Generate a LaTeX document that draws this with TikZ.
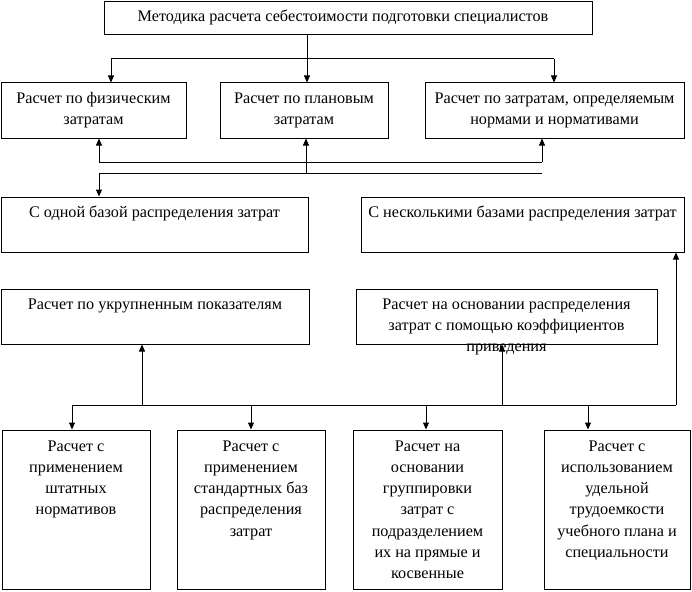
\documentclass[tikz,border=0pt]{standalone}
\usepackage{fontspec}
\setmainfont{Liberation Serif}
\usetikzlibrary{arrows.meta,fit}
\begin{document}
\begin{tikzpicture}[x=1pt,y=-1pt,
  box/.style={draw, line width=1pt, inner sep=0pt},
  txt/.style={align=center, inner sep=0pt, anchor=base, font=\fontsize{16.2}{21.3}\selectfont},
  arr/.style={line width=1pt, -{Triangle[length=7pt,width=6pt]}},
  ln/.style={line width=1pt}]
\useasboundingbox (0,0) rectangle (692,591);
% boxes
\node[box, fit={(104,2) (592,35)}] (top) {};
\node[box, fit={(1,83) (186,138)}] (b1) {};
\node[box, fit={(220,83) (388,138)}] (b2) {};
\node[box, fit={(425,83) (684,138)}] (b3) {};
\node[box, fit={(1,197) (308,252)}] (c1) {};
\node[box, fit={(361,197) (684,252)}] (c2) {};
\node[box, fit={(1,289) (309,344)}] (d1) {};
\node[box, fit={(356,289) (657,344)}] (d2) {};
\node[box, fit={(2,430) (150,589)}] (e1) {};
\node[box, fit={(177,430) (325,589)}] (e2) {};
\node[box, fit={(353,430) (502,589)}] (e3) {};
\node[box, fit={(544,430) (690,589)}] (e4) {};
% texts (anchor base = baseline of last line)
\node[txt] (ttop) at (343,22) {Методика расчета себестоимости подготовки специалистов};
\node[txt] (tb1) at (93.5,124.3) {Расчет по физическим\\затратам};
\node[txt] (tb2) at (304,124.3) {Расчет по плановым\\затратам};
\node[txt] (tb3) at (554.5,124.3) {Расчет по затратам, определяемым\\нормами и нормативами};
\node[txt] (tc1) at (154.5,217) {С одной базой распределения затрат};
\node[txt] (tc2) at (522.5,217) {С несколькими базами распределения затрат};
\node[txt] (td1) at (155,309) {Расчет по укрупненным показателям};
\node[txt] (td2) at (506.5,351.6) {Расчет на основании распределения\\затрат с помощью коэффициентов\\приведения};
\node[txt] (te1) at (76,514.9) {Расчет с\\применением\\штатных\\нормативов};
\node[txt] (te2) at (251,536.2) {Расчет с\\применением\\стандартных баз\\распределения\\затрат};
\node[txt] (te3) at (427.5,578.8) {Расчет на\\основании\\группировки\\затрат с\\подразделением\\их на прямые и\\косвенные};
\node[txt] (te4) at (617,557.5) {Расчет с\\использованием\\удельной\\трудоемкости\\учебного плана и\\специальности};
% junctions
\coordinate (j1) at (307,59);
\coordinate (j1l) at (111,59);
\coordinate (j1r) at (554,59);
\coordinate (j2l) at (99,162);
\coordinate (j2m) at (306,162);
\coordinate (j2r) at (542,162);
\coordinate (j3l) at (99,173);
\coordinate (j3m) at (306,173);
\coordinate (j3r) at (542,173);
\coordinate (k0) at (72,405);
\coordinate (k1) at (142,405);
\coordinate (k2) at (251,405);
\coordinate (k3) at (426,405);
\coordinate (k4) at (502,405);
\coordinate (k5) at (588,405);
\coordinate (k6) at (676,405);
% connectors
\draw[arr] (top.south -| j1) -- (b2.north -| j1);
\draw[ln] (j1l) -- (j1r);
\draw[arr] (j1l) -- (b1.north -| j1l);
\draw[arr] (j1r) -- (b3.north -| j1r);
\draw[ln] (j2l) -- (j2r);
\draw[arr] (j2l) -- (b1.south -| j2l);
\draw[arr] (j3m) -- (b2.south -| j3m);
\draw[arr] (j2r) -- (b3.south -| j2r);
\draw[ln] (j3l) -- (j3r);
\draw[arr] (j3l) -- (c1.north -| j3l);
\draw[ln] (k0) -- (k6);
\draw[arr] (k1) -- (d1.south -| k1);
\draw[arr] (k4) -- (d2.south -| k4);
\draw[arr] (k6) -- (c2.south -| k6);
\draw[arr] (k0) -- (e1.north -| k0);
\draw[arr] (k2) -- (e2.north -| k2);
\draw[arr] (k3) -- (e3.north -| k3);
\draw[arr] (k5) -- (e4.north -| k5);
\end{tikzpicture}
\end{document}
